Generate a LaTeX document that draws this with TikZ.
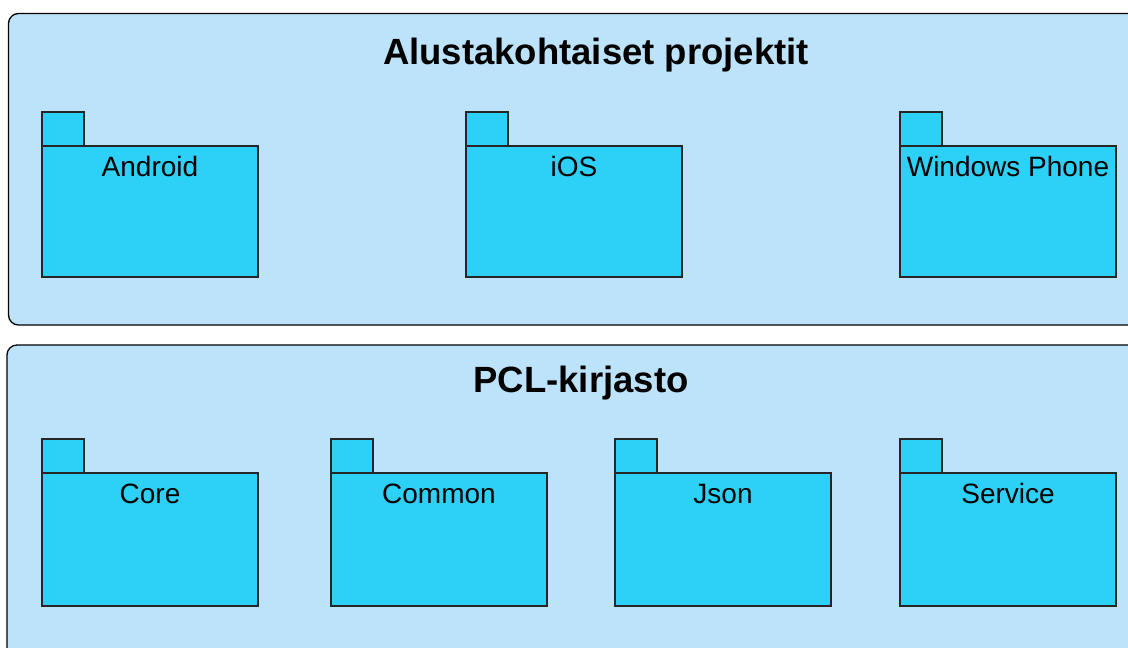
\documentclass[tikz,border=0pt]{standalone}
\usepackage{fontspec}
\setmainfont{Liberation Sans}
\definecolor{contfill}{HTML}{BCE3FA}
\definecolor{pkgfill}{HTML}{2DD0F6}
\tikzset{
 container/.style={draw=black, fill=contfill, line width=1.3pt, rounded corners=10pt},
 pkgbody/.style={draw=black!85, fill=pkgfill, line width=1.2pt, minimum width=216pt, anchor=north west, inner sep=0pt, outer sep=0pt},
 pkgtab/.style={draw=black!85, fill=pkgfill, line width=1.2pt, minimum width=42pt, minimum height=34pt, anchor=south west, inner sep=0pt, outer sep=0pt},
 pkglabel/.style={anchor=base, font=\fontsize{28}{32}\selectfont, inner sep=0pt},
 grouptitle/.style={anchor=base, font=\fontsize{36.5}{40}\selectfont\bfseries, inner sep=0pt}
}
\begin{document}
\begin{tikzpicture}[x=1pt,y=-1pt]
\useasboundingbox (0,0) rectangle (1128,648);
\fill[white] (0,0) rectangle (1128,648);
\clip (0,0) rectangle (1128,648);
\draw[container] (8.5,13.5) rectangle (1150,325);
\draw[container] (7,345) rectangle (1150,670);
\node[grouptitle] (t1) at (596,64) {Alustakohtaiset projektit};
\node[grouptitle] (t2) at (581,392) {PCL-kirjasto};
\foreach \n/\x/\y/\h/\t in {android/42/146/131/Android, ios/466/146/131/iOS, wp/900/146/131/Windows Phone,
  core/42/473/133/Core, common/331/473/133/Common, json/615/473/133/Json, service/900/473/133/Service} {
  \node[pkgbody, minimum height=\h pt] (\n) at (\x,\y) {};
  \node[pkgtab] (\n-tab) at (\n.north west) {};
  \node[pkglabel] (\n-label) at ({\x+108},{\y+30}) {\t};
}
\end{tikzpicture}
\end{document}
